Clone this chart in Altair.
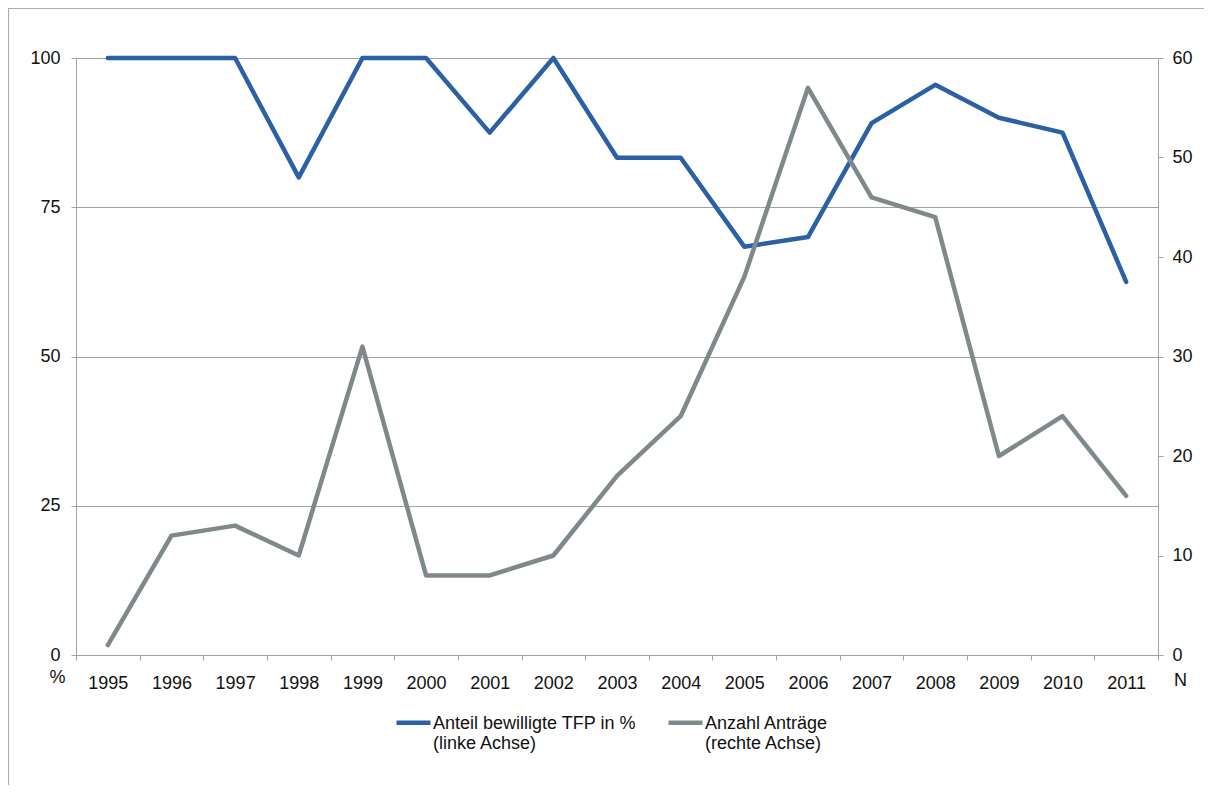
import altair as alt
import pandas as pd

years = list(range(1995, 2012))
share_approved = [100, 100, 100, 80, 100, 100, 87.5, 100, 83.3, 83.3, 68.4, 70, 89.1, 95.5, 90, 87.5, 62.5]
num_applications = [1, 12, 13, 10, 31, 8, 8, 10, 18, 24, 38, 57, 46, 44, 20, 24, 16]
series_names = ["Anteil bewilligte TFP in %|(linke Achse)", "Anzahl Anträge|(rechte Achse)"]
series_colors = ["#2b61a4", "#7f898c"]
left_ticks = [0, 25, 50, 75, 100]
right_ticks = [0, 10, 20, 30, 40, 50, 60]

df = pd.DataFrame({
    "year": years * 2,
    "value": share_approved + num_applications,
    "series": [series_names[0]] * len(years) + [series_names[1]] * len(years),
})

FONT = "Liberation Sans"
AX = "#a3a3a3"
FS = 18
W, H = 1082, 597
PL, PT, PR, PB = 68, 50, 46, 130

x_enc = alt.X(
    "year:O",
    scale=alt.Scale(type="band", paddingInner=0, paddingOuter=0),
    bandPosition=0.5,
    axis=alt.Axis(
        title=None, tickBand="extent", labelAngle=0, labelFont=FONT, labelFontSize=FS,
        labelColor="#111111", labelPadding=14, tickSize=5, tickColor=AX, domainColor=AX,
        grid=False,
    ),
)

color_enc = alt.Color(
    "series:N",
    scale=alt.Scale(domain=series_names, range=series_colors),
    legend=alt.Legend(
        title=None, orient="none", legendX=318, legendY=651, direction="horizontal",
        symbolType="M-1,-0.35H1", symbolSize=1156, symbolStrokeWidth=4.5,
        labelFont=FONT, labelFontSize=FS, labelColor="#111111", labelBaseline="alphabetic",
        labelOffset=0, columnPadding=22, labelLimit=500,
        labelExpr="split(datum.label, '|')",
    ),
)

base = alt.Chart(df)

blue = base.transform_filter(alt.datum.series == series_names[0]).mark_line(
    strokeWidth=4.5, strokeCap="round", strokeJoin="round"
).encode(
    x=x_enc,
    y=alt.Y(
        "value:Q",
        scale=alt.Scale(domain=[0, 100], nice=False),
        axis=alt.Axis(
            orient="left", values=left_ticks, title="%", titleAngle=0, titleX=-19, titleY=619,
            titleAlign="center", titleBaseline="middle", titleFont=FONT, titleFontSize=FS,
            titleFontWeight="normal", titleColor="#111111",
            labelFont=FONT, labelFontSize=FS, labelColor="#111111", labelPadding=11,
            tickSize=5, tickColor=AX, domainColor=AX, grid=True, gridColor=AX, gridWidth=1,
        ),
    ),
    color=color_enc,
)

gray = base.transform_filter(alt.datum.series == series_names[1]).mark_line(
    strokeWidth=4.5, strokeCap="round", strokeJoin="round"
).encode(
    x=x_enc,
    y=alt.Y(
        "value:Q",
        scale=alt.Scale(domain=[0, 60], nice=False),
        axis=alt.Axis(
            orient="right", values=right_ticks, title="N", titleAngle=0, titleX=22, titleY=622,
            titleAlign="center", titleBaseline="middle", titleFont=FONT, titleFontSize=FS,
            titleFontWeight="normal", titleColor="#111111",
            labelFont=FONT, labelFontSize=FS, labelColor="#111111", labelPadding=9,
            tickSize=5, tickColor=AX, domainColor=AX, grid=False,
        ),
    ),
    color=color_enc,
)

frame_df = pd.DataFrame({"k": [0]})
frame_left = alt.Chart(frame_df).mark_rule(color="#a9b0b6", strokeWidth=1.2).encode(
    x=alt.value(-67.5), y=alt.value(-PT), y2=alt.value(H + PB)
)
frame_top = alt.Chart(frame_df).mark_rule(color="#a9b0b6", strokeWidth=1.2).encode(
    y=alt.value(-49.5), x=alt.value(-PL), x2=alt.value(W + PR)
)

chart = alt.layer(blue, gray, frame_left, frame_top).resolve_scale(y="independent").properties(
    width=W, height=H,
    padding={"left": PL, "top": PT, "right": PR, "bottom": PB},
    autosize=alt.AutoSizeParams(type="none"),
).configure_view(stroke="transparent")

chart.save("out.html", embed_options={"renderer": "svg", "actions": False})
